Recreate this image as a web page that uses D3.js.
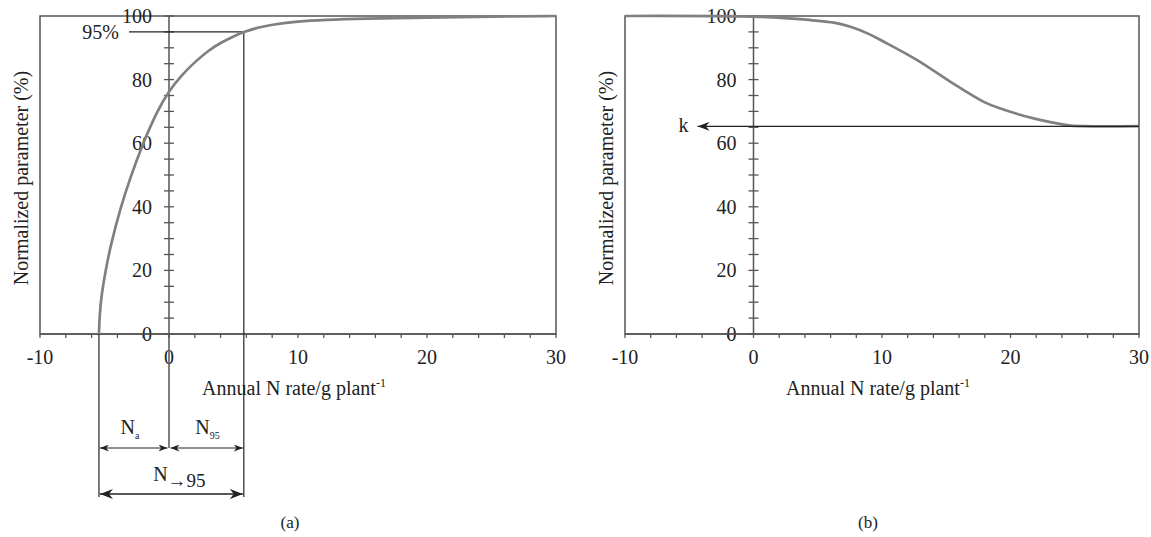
<!DOCTYPE html>
<html><head><meta charset="utf-8">
<script src="https://cdn.jsdelivr.net/npm/d3@7"></script>
<style>
html,body{margin:0;padding:0;background:#fff;}
svg{display:block;}
text{font-family:"Liberation Serif","Times New Roman",serif;fill:#222;}
</style></head>
<body>
<svg id="chart" width="1151" height="537"></svg>
<script>
// ---- data ----
const xTickValues = [-10, 0, 10, 20, 30];
const yTickValues = [0, 20, 40, 60, 80, 100];
// panel (a): normalized parameter vs annual N rate
const xA = [-5.43, -5.38, -5.22, -4.91, -4.52, -3.74, -2.97, -2.07, -0.91, 0, 1, 2, 3, 4, 5, 5.8, 7, 8, 10, 12, 15, 20, 25, 30];
const yA = [0, 6, 12.7, 20, 28, 40, 49.5, 59.5, 70.2, 76.5, 81.5, 85.5, 89, 91.6, 93.6, 95, 96.5, 97.3, 98.3, 98.8, 99.2, 99.5, 99.8, 100];
// panel (b)
const xB = [-10, 0, 3, 6.25, 7.55, 9, 10.14, 12.74, 15.33, 17.92, 19.22, 21.8, 24.4, 25.7, 30];
const yB = [100, 99.8, 99.2, 97.9, 96.6, 94.3, 91.9, 86.1, 79.3, 73.0, 70.9, 67.8, 65.7, 65.35, 65.35];
// annotations
const nA = -5.43;      // N_a
const n95 = 5.8;       // N_95
const level95 = 95;    // 95%
const kValue = 65.3;   // k

const svg = d3.select("#chart");
const axisColor = "#555";
const annColor = "#222";
const curveColor = "#808080";
const FS = 20;

const defs = svg.append("defs");
function marker(id, len, half) {
  defs.append("marker").attr("id", id)
    .attr("markerUnits", "userSpaceOnUse")
    .attr("viewBox", `0 ${-half} ${len} ${2*half}`)
    .attr("refX", len).attr("refY", 0)
    .attr("markerWidth", len).attr("markerHeight", 2*half)
    .attr("orient", "auto-start-reverse")
    .append("path")
    .attr("d", `M0,${-half} L${len},0 L0,${half} L${len*0.3},0 Z`)
    .attr("fill", annColor);
}
marker("arrS", 9, 3.5);
marker("arrL", 13, 5);
marker("arrK", 12, 4.5);

function panel(x0, x1) {
  const x = d3.scaleLinear().domain([-10, 30]).range([x0, x1]);
  const y = d3.scaleLinear().domain([0, 100]).range([334, 16]);
  const g = svg.append("g");
  g.append("rect").attr("x", x(-10)).attr("y", y(100))
    .attr("width", x(30) - x(-10)).attr("height", y(0) - y(100))
    .attr("fill", "none").attr("stroke", axisColor).attr("stroke-width", 1.5);
  const xt = d3.range(-10, 30.01, 2);
  g.selectAll(".xt").data(xt).join("line")
    .attr("x1", d => x(d)).attr("x2", d => x(d))
    .attr("y1", y(0)).attr("y2", y(0) + 4)
    .attr("stroke", axisColor).attr("stroke-width", 1.3);
  g.selectAll(".xl").data(xTickValues).join("text")
    .attr("x", d => x(d)).attr("y", 357).attr("dy", "0.35em")
    .attr("text-anchor", "middle").attr("font-size", FS)
    .text(d => d);
  const yt = d3.range(0, 100.01, 5);
  g.selectAll(".yt").data(yt).join("line")
    .attr("x1", x(0) - 5).attr("x2", x(0) + 5)
    .attr("y1", d => y(d)).attr("y2", d => y(d))
    .attr("stroke", axisColor).attr("stroke-width", 1.3);
  g.selectAll(".yl").data(yTickValues).join("text")
    .attr("x", x(0) - 17).attr("y", d => y(d)).attr("dy", "0.35em")
    .attr("text-anchor", "end").attr("font-size", FS)
    .text(d => d);
  const xt1 = g.append("text").attr("x", (x0 + x1) / 2 - 4).attr("y", 395)
    .attr("text-anchor", "middle").attr("font-size", FS);
  xt1.append("tspan").text("Annual N rate/g plant");
  xt1.append("tspan").attr("font-size", 12).attr("dy", -8).text("-1");
  g.append("text")
    .attr("transform", `translate(${x0 - 12},${(y(0)+y(100))/2 + 3}) rotate(-90)`)
    .attr("text-anchor", "middle").attr("font-size", FS)
    .text("Normalized parameter (%)");
  return {g, x, y};
}

// ---- panel a ----
const A = panel(40, 556);
{
  const {g, x, y} = A;
  g.append("line").attr("x1", x(0)).attr("x2", x(0))
    .attr("y1", y(100)).attr("y2", 448)
    .attr("stroke", axisColor).attr("stroke-width", 1.5);
  g.append("line").attr("x1", x(-10)).attr("x2", x(30))
    .attr("y1", y(0)).attr("y2", y(0))
    .attr("stroke", axisColor).attr("stroke-width", 1.5);
  g.append("line").attr("x1", x(0) - 40).attr("x2", x(n95))
    .attr("y1", y(level95)).attr("y2", y(level95))
    .attr("stroke", annColor).attr("stroke-width", 1.2);
  g.append("text").attr("x", x(0) - 50).attr("y", y(level95)).attr("dy", "0.35em")
    .attr("text-anchor", "end").attr("font-size", FS).text("95%");
  g.append("line").attr("x1", x(n95)).attr("x2", x(n95))
    .attr("y1", y(level95)).attr("y2", 497)
    .attr("stroke", annColor).attr("stroke-width", 1.2);
  g.append("line").attr("x1", x(nA)).attr("x2", x(nA))
    .attr("y1", y(0)).attr("y2", 497)
    .attr("stroke", annColor).attr("stroke-width", 1.2);
  const line = d3.line().x(d => x(d[0])).y(d => y(d[1])).curve(d3.curveBasis);
  g.append("path").datum(d3.zip(xA, yA)).attr("d", line)
    .attr("fill", "none").attr("stroke", curveColor).attr("stroke-width", 2.7);
  g.append("line").attr("x1", x(nA) + 1).attr("x2", x(0) - 1.5)
    .attr("y1", 448).attr("y2", 448)
    .attr("stroke", annColor).attr("stroke-width", 1.2)
    .attr("marker-start", "url(#arrS)").attr("marker-end", "url(#arrS)");
  g.append("line").attr("x1", x(0) + 1.5).attr("x2", x(n95) - 1)
    .attr("y1", 448).attr("y2", 448)
    .attr("stroke", annColor).attr("stroke-width", 1.2)
    .attr("marker-start", "url(#arrS)").attr("marker-end", "url(#arrS)");
  const ta = g.append("text").attr("x", (x(nA) + x(0)) / 2 - 4).attr("y", 434)
    .attr("text-anchor", "middle").attr("font-size", FS);
  ta.append("tspan").text("N");
  ta.append("tspan").attr("font-size", 10).attr("dy", 5).text("a");
  const tb = g.append("text").attr("x", (x(0) + x(n95)) / 2 + 1).attr("y", 434)
    .attr("text-anchor", "middle").attr("font-size", FS);
  tb.append("tspan").text("N");
  tb.append("tspan").attr("font-size", 10).attr("dy", 5).text("95");
  g.append("line").attr("x1", x(nA) + 1).attr("x2", x(n95) - 1)
    .attr("y1", 494).attr("y2", 494)
    .attr("stroke", annColor).attr("stroke-width", 1.4)
    .attr("marker-start", "url(#arrL)").attr("marker-end", "url(#arrL)");
  const tc = g.append("text").attr("x", (x(nA) + x(n95)) / 2 + 8).attr("y", 481)
    .attr("text-anchor", "middle").attr("font-size", FS);
  tc.append("tspan").text("N");
  tc.append("tspan").attr("font-size", 19).attr("dy", 6).text("→95");
  g.append("text").attr("x", (40 + 556) / 2 - 8).attr("y", 522).attr("dy", "0.35em")
    .attr("text-anchor", "middle").attr("font-size", 17).text("(a)");
}

// ---- panel b ----
const B = panel(625, 1139);
{
  const {g, x, y} = B;
  g.append("line").attr("x1", x(0)).attr("x2", x(0))
    .attr("y1", y(100)).attr("y2", y(0))
    .attr("stroke", axisColor).attr("stroke-width", 1.5);
  g.append("line").attr("x1", x(-10)).attr("x2", x(30))
    .attr("y1", y(0)).attr("y2", y(0))
    .attr("stroke", axisColor).attr("stroke-width", 1.5);
  const line = d3.line().x(d => x(d[0])).y(d => y(d[1])).curve(d3.curveCatmullRom.alpha(0.5));
  g.append("path").datum(d3.zip(xB, yB)).attr("d", line)
    .attr("fill", "none").attr("stroke", curveColor).attr("stroke-width", 2.7);
  g.append("line").attr("x1", x(30)).attr("x2", x(0) - 56)
    .attr("y1", y(kValue)).attr("y2", y(kValue))
    .attr("stroke", annColor).attr("stroke-width", 1.3)
    .attr("marker-end", "url(#arrK)");
  g.append("text").attr("x", x(0) - 70).attr("y", y(kValue)).attr("dy", "0.3em")
    .attr("text-anchor", "middle").attr("font-size", FS).text("k");
  g.append("text").attr("x", (625 + 1139) / 2 - 14).attr("y", 522).attr("dy", "0.35em")
    .attr("text-anchor", "middle").attr("font-size", 17).text("(b)");
}
</script>
</body></html>
